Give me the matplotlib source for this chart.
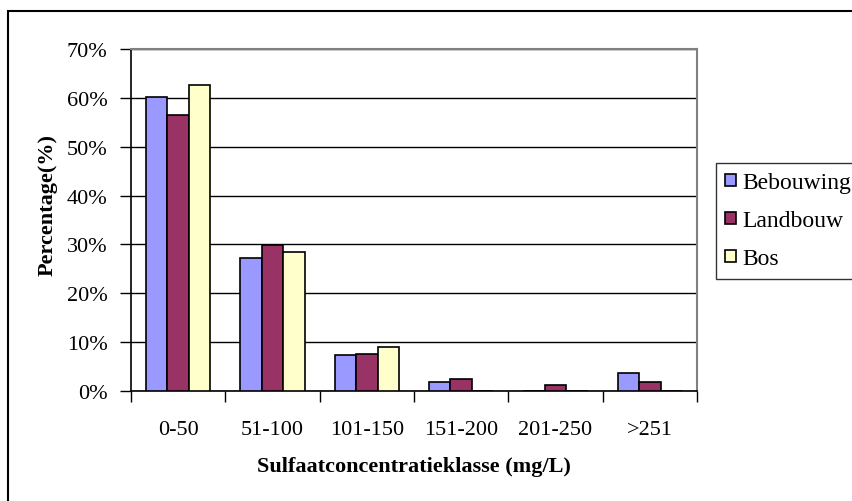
import numpy as np
import matplotlib.pyplot as plt
from matplotlib.patches import Rectangle

# data (percentages per sulfate class)
categories = ['0-50', '51-100', '101-150', '151-200', '201-250', '>251']
series_names = ['Bebouwing', 'Landbouw', 'Bos']
bebouwing = [60.1, 27.3, 7.3, 1.8, 0.0, 3.6]
landbouw = [56.4, 29.9, 7.6, 2.5, 1.3, 1.8]
bos = [62.7, 28.4, 9.1, 0.0, 0.0, 0.0]
colors = ['#9999FF', '#993366', '#FFFFCC']

plt.rcParams['font.family'] = ['Liberation Serif', 'DejaVu Serif']

W, H = 853, 502
fig = plt.figure(figsize=(W / 100, H / 100), dpi=100)
ax = fig.add_axes([131 / W, 1 - 392 / H, (697 - 131) / W, (392 - 50) / H])

x = np.arange(len(categories))
bw = 0.228
for k, (vals, name) in enumerate(zip([bebouwing, landbouw, bos], series_names)):
    ax.bar(x + (k - 1) * bw, vals, width=bw, color=colors[k], edgecolor='black',
           linewidth=1.2, label=name, zorder=3)

ax.set_xlim(-0.5, len(categories) - 0.5)
ax.set_ylim(0, 70)
ax.set_yticks(np.arange(0, 71, 10))
ax.set_yticklabels([f'{v}%' for v in range(0, 71, 10)], fontsize=16)
ax.yaxis.grid(True, color='black', linewidth=1, zorder=0)

# category labels centered, ticks at group borders
ax.set_xticks(np.arange(-0.5, len(categories), 1))
ax.set_xticklabels([])
ax.set_xticks(x, minor=True)
ax.set_xticklabels(categories, minor=True, fontsize=16)
ax.tick_params(axis='x', which='minor', length=0, pad=21)
ax.tick_params(axis='x', which='major', length=8, width=1, direction='out')
ax.tick_params(axis='y', length=8, width=1, direction='out', pad=9)

ax.spines['top'].set_color('#808080')
ax.spines['right'].set_color('#808080')
ax.spines['top'].set_linewidth(1.5)
ax.spines['right'].set_linewidth(1.5)
ax.spines['left'].set_linewidth(1.2)
ax.spines['bottom'].set_linewidth(1.2)

fig.text(414 / W, 1 - 467 / H, 'Sulfaatconcentratieklasse (mg/L)', ha='center', va='center',
         fontsize=16, fontweight='bold')
fig.text(48 / W, 1 - 205 / H, 'Percentage(%)', ha='center', va='center', rotation=90,
         fontsize=16, fontweight='bold')

leg = fig.legend(loc='upper left', bbox_to_anchor=(716 / W, 1 - 164 / H), fontsize=17,
                 frameon=True, fancybox=False, edgecolor='black', handlelength=0.45,
                 handleheight=0.45, handletextpad=0.25, borderpad=0.4, labelspacing=0.72,
                 borderaxespad=0)
leg.get_frame().set_linewidth(1)

# outer chart border (right/bottom edges fall outside the picture)
fig.patches.append(Rectangle((8 / W, -0.1), 1.2, 1 - 12 / H + 0.1, transform=fig.transFigure,
                             fill=False, edgecolor='black', linewidth=1.5))

fig.savefig('out.png', dpi=100)
